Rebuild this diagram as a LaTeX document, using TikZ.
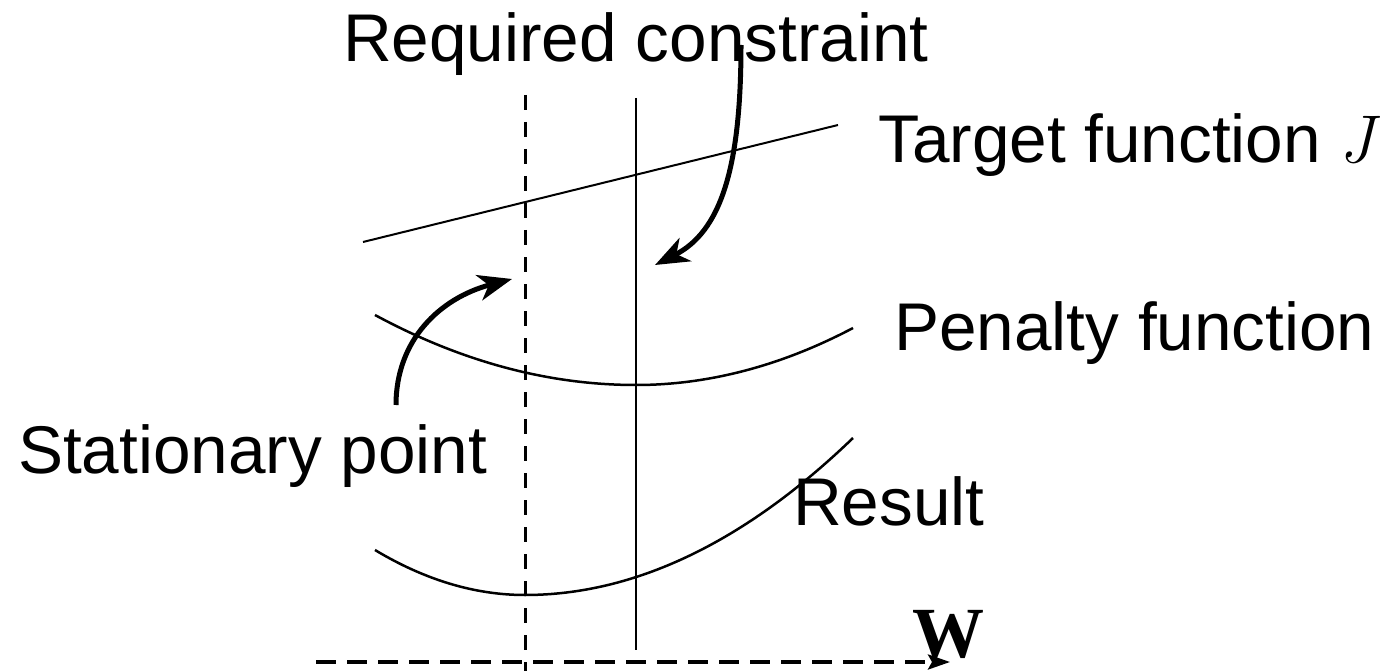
\documentclass[tikz,border=0pt]{standalone}
\usepackage{fontspec}
\newfontfamily\lmr{Latin Modern Roman}
\setmainfont{Liberation Sans}
\newfontfamily\wfont{Liberation Serif}
\usetikzlibrary{arrows.meta}
\begin{document}
\begin{tikzpicture}[x=1pt,y=-1pt,
  lbl/.style={anchor=base west, inner sep=0pt, font=\fontsize{67.5}{80}\selectfont},
  thinline/.style={line width=2pt},
  curve/.style={line width=2.5pt},
  bigarrow/.style={line width=5pt, -{Stealth[length=34pt,width=26pt,inset=10pt]}},
  vdash/.style={line width=3pt, dash pattern=on 15pt off 12pt},
  axis/.style={line width=3.5pt, dash pattern=on 20pt off 11pt, -{Stealth[length=22pt,width=15pt,inset=4pt]}},
]
\useasboundingbox (0,0) rectangle (1392,671);
% labels
\node[lbl] (req) at (343,62) {Required constraint};
\node[lbl] (tgt) at (878,163) {Target function {\lmr\itshape J}};
\node[lbl] (pen) at (894,350) {Penalty function};
\node[lbl] (sta) at (18,473) {Stationary point};
\node[lbl] (res) at (793,525) {Result};
\node[anchor=base west, inner sep=0pt, font=\wfont\bfseries\fontsize{72}{80}\selectfont] (w) at (912,657) {W};
% vertical lines
\coordinate (d1) at (525,95);
\coordinate (d2) at (525,671);
\draw[vdash] (d1) -- (d2);
\coordinate (s1) at (636,98);
\coordinate (s2) at (636,650);
\draw[thinline] (s1) -- (s2);
% target function
\coordinate (t1) at (363,242);
\coordinate (t2) at (838,125);
\draw[thinline] (t1) -- (t2);
% penalty
\coordinate (p1) at (375,315);
\coordinate (pm) at (636,385);
\coordinate (p2) at (853,328);
\draw[curve] (p1) .. controls (462,362) and (549,385) .. (pm) .. controls (708,385) and (781,366) .. (p2);
% result
\coordinate (r1) at (375,550);
\coordinate (rm) at (525,595);
\coordinate (r2) at (853,438);
\draw[curve] (r1) .. controls (425,580) and (475,595) .. (rm) .. controls (634,595) and (744,543) .. (r2);
% axis
\coordinate (a1) at (316,662);
\coordinate (a2) at (950,662);
\draw[axis] (a1) -- (a2);
% arrows
\coordinate (reqs) at (741,45);
\coordinate (reqe) at (655,265);
\draw[bigarrow] (reqs) .. controls (741,170) and (720,232) .. (reqe);
\coordinate (stas) at (396,405);
\coordinate (stae) at (512,279);
\draw[bigarrow] (stas) .. controls (396,340) and (440,298) .. (stae);
\end{tikzpicture}
\end{document}
